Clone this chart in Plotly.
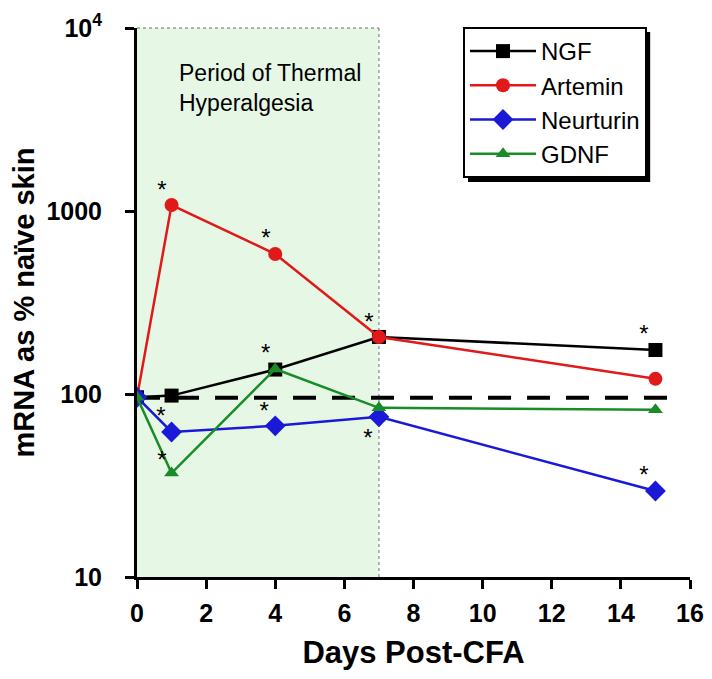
import plotly.graph_objects as go

# days after CFA injection
days = [0, 1, 4, 7, 15]

# mRNA as % of naive skin
ngf = [96, 98, 136, 205, 174]
artemin = [96, 1078, 582, 205, 121]
neurturin = [96, 62, 67, 75, 29.5]
gdnf = [96, 37, 137, 84, 82]

# baseline (dashed line)
base_x = [0, 15.5]
base_y = [95.5, 95.5]

# significance stars
star_x = [0.72, 3.73, 6.71, 14.67, 3.72, 0.69, 3.68, 0.72, 6.68, 14.67]
star_y = [1271, 696, 242, 208, 164, 74, 79, 42.3, 56.4, 35.3]

FONT = "Liberation Sans, Arial, sans-serif"

series = [
    ("NGF", ngf, "black", "square", 14),
    ("Artemin", artemin, "rgb(225,25,25)", "circle", 14),
    ("Neurturin", neurturin, "rgb(25,25,215)", "diamond", 16),
    ("GDNF", gdnf, "rgb(25,140,40)", "triangle-up", 13),
]

fig = go.Figure()

fig.add_trace(go.Scatter(x=base_x, y=base_y, mode="lines", showlegend=False,
                         line=dict(color="black", width=4, dash="23px,16px"),
                         hoverinfo="skip"))

for name, vals, col, sym, sz in series:
    fig.add_trace(go.Scatter(x=days, y=vals, mode="lines+markers", name=name,
                             line=dict(color=col, width=2.5),
                             marker=dict(symbol=sym, size=sz, color=col)))

fig.add_trace(go.Scatter(x=star_x, y=star_y, mode="text", text=["*"] * len(star_x),
                         textposition="middle center", showlegend=False,
                         textfont=dict(size=24, color="black", family=FONT)))

# shaded hyperalgesia period
fig.add_shape(type="rect", xref="x", yref="paper", x0=0, x1=7, y0=0, y1=1,
              fillcolor="rgb(230,247,230)", line=dict(width=0), layer="below")
fig.add_shape(type="line", xref="x", yref="paper", x0=0, x1=7, y0=1, y1=1,
              line=dict(color="rgb(150,160,150)", width=1.5, dash="dot"), layer="below")
fig.add_shape(type="line", xref="x", yref="paper", x0=7, x1=7, y0=0, y1=1,
              line=dict(color="rgb(150,160,150)", width=1.5, dash="dot"), layer="below")

fig.add_annotation(x=1.15, y=0.946, xref="x", yref="paper", xanchor="left", yanchor="top",
                   align="left", showarrow=False,
                   text="Period of Thermal<br>Hyperalgesia",
                   font=dict(size=23, color="black", family=FONT))

# legend shadow
fig.add_shape(type="rect", xref="paper", yref="paper", x0=0.5986, x1=0.928, y0=0.7195, y1=0.9927,
              fillcolor="black", line=dict(width=0), layer="above")

# page body has an 8px margin, so the figure is 8px smaller each way
fig.update_layout(
    width=704, height=671,
    margin=dict(l=129, r=22, t=20, b=102),
    paper_bgcolor="white", plot_bgcolor="white",
    font=dict(family=FONT, color="black"),
    legend=dict(x=0.5895, y=1.0018, xanchor="left", yanchor="top",
                bgcolor="white", bordercolor="black", borderwidth=2,
                font=dict(size=24, family=FONT), itemwidth=66),
    xaxis=dict(range=[0, 16], tickvals=[0, 2, 4, 6, 8, 10, 12, 14, 16],
               showline=True, linecolor="black", linewidth=3,
               ticks="outside", ticklen=9, tickwidth=2.5, tickcolor="black",
               showgrid=False, zeroline=False, automargin=False,
               ticklabelstandoff=3,
               tickfont=dict(size=25, weight="bold", family=FONT),
               title=dict(text="Days Post-CFA", standoff=16,
                          font=dict(size=31, weight="bold", family=FONT))),
    yaxis=dict(type="log", range=[1, 4],
               tickvals=[10, 100, 1000, 10000],
               ticktext=["10", "100", "1000", "10<sup>4</sup>"],
               showline=True, linecolor="black", linewidth=3,
               ticks="outside", ticklen=9, tickwidth=2.5, tickcolor="black",
               showgrid=False, zeroline=False, automargin=False,
               ticklabelstandoff=18,
               tickfont=dict(size=25, weight="bold", family=FONT),
               title=dict(text="mRNA as % naïve skin", standoff=19,
                          font=dict(size=29, weight="bold", family=FONT))),
)

fig.write_html("out.html")
